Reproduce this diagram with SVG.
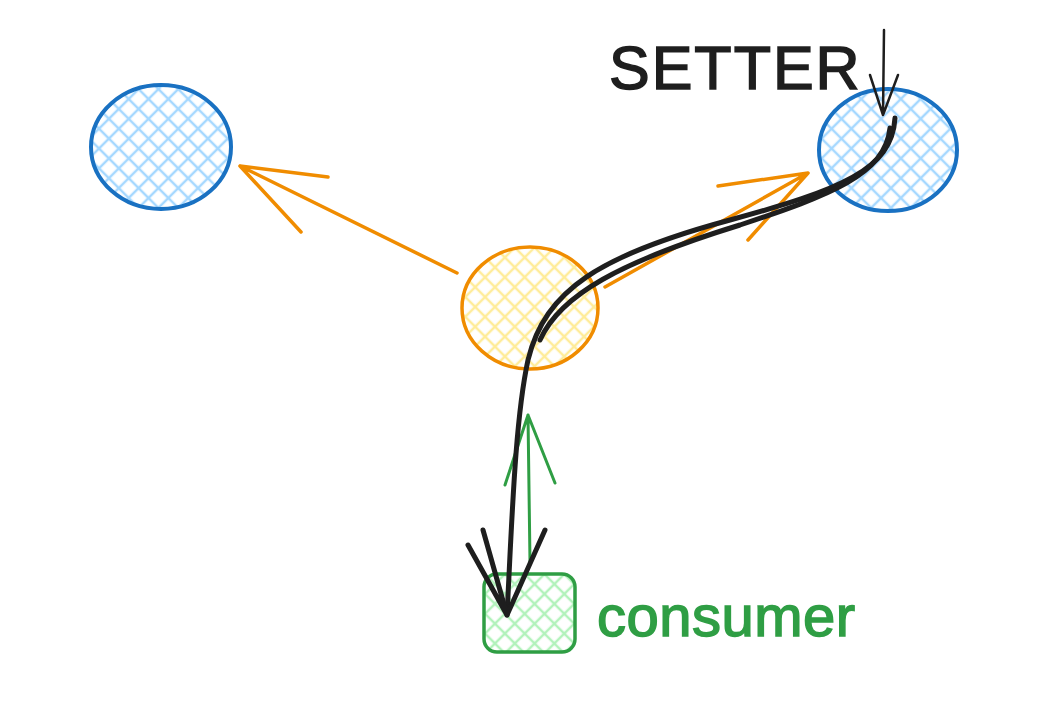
<svg xmlns="http://www.w3.org/2000/svg" width="1053" height="727" viewBox="0 0 1053 727">
<defs>
<pattern id="hb" width="14" height="14" patternUnits="userSpaceOnUse" patternTransform="rotate(45)"><path d="M0 7H14M7 0V14" stroke="#a5d8ff" stroke-width="2.5" fill="none"/></pattern>
<pattern id="hy" width="14" height="14" patternUnits="userSpaceOnUse" patternTransform="rotate(45)"><path d="M0 7H14M7 0V14" stroke="#ffec99" stroke-width="2.5" fill="none"/></pattern>
<pattern id="hg" width="14" height="14" patternUnits="userSpaceOnUse" patternTransform="rotate(45)"><path d="M0 7H14M7 0V14" stroke="#b2f2bb" stroke-width="2.5" fill="none"/></pattern>
</defs>
<style>
.blue{fill:url(#hb);stroke:#1971c2;stroke-width:4}
.yel{fill:url(#hy);stroke:#f08c00;stroke-width:3.5}
.grn{fill:url(#hg);stroke:#2f9e44;stroke-width:3.5}
.or{stroke:#f08c00;stroke-width:3.5;fill:none;stroke-linecap:round}
.gr{stroke:#2f9e44;stroke-width:3;fill:none;stroke-linecap:round}
.bk{stroke:#1e1e1e;stroke-width:5;fill:none;stroke-linecap:round;stroke-linejoin:round}
.bk2{stroke:#1e1e1e;stroke-width:2.5;fill:none;stroke-linecap:round}
text{font-family:"Liberation Sans",Arial,sans-serif}
</style>
<rect width="1053" height="727" fill="#ffffff"/>
<g id="node-left"><ellipse class="blue" cx="161" cy="147" rx="70" ry="62"/></g>
<g id="node-right"><ellipse class="blue" cx="888" cy="150" rx="69" ry="61"/></g>
<g id="node-center"><ellipse class="yel" cx="530" cy="308" rx="68" ry="61"/></g>
<g id="node-consumer"><rect class="grn" x="484" y="574" width="91" height="78" rx="13"/>
<text x="597" y="636" font-size="58" fill="#2f9e44" stroke="#2f9e44" stroke-width="1.5" letter-spacing="0.5">consumer</text></g>
<g id="label-setter"><text x="609" y="89" font-size="61" fill="#1e1e1e" stroke="#1e1e1e" stroke-width="1.5" letter-spacing="2">SETTER</text></g>
<g id="connectors">
<path class="or" d="M457 273 L240 166 M240 166 L328 177 M240 166 L301 232"/>
<path class="or" d="M605 287 L808 173 M808 173 L718 186 M808 173 L748 240"/>
<path class="gr" d="M530 562 L528 415 M528 415 L505 485 M528 415 L555 483"/>
<path class="bk" d="M895 118 C892 170 840 190 730 220 C600 255 545 290 528 360 C515 420 512 520 507 615"/>
<path class="bk" d="M890 128 C885 175 830 195 740 225 C620 262 560 295 540 340" stroke-width="3.5"/>
<path class="bk" d="M507 615 L468 545 M507 615 L545 530 M507 615 L483 530"/>
<path class="bk2" d="M884 30 L883 115 M883 115 L870 75 M883 115 L898 75"/>
</g>
</svg>
